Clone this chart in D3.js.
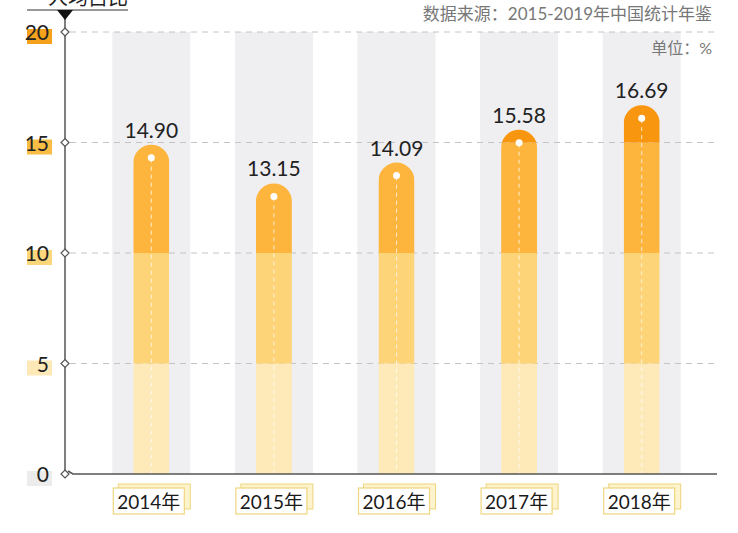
<!DOCTYPE html>
<html>
<head>
<meta charset="utf-8">
<script src="https://cdn.jsdelivr.net/npm/d3@7"></script>
<style>
  html, body { margin: 0; padding: 0; background: #fff; }
  body { width: 738px; height: 533px; overflow: hidden; }
  text { font-family: Lato, "Noto Sans CJK SC", sans-serif; }
</style>
</head>
<body>
<div id="chart"></div>
<script>
const years  = ["2014年", "2015年", "2016年", "2017年", "2018年"];
const values = [14.90, 13.15, 14.09, 15.58, 16.69];
const ticks  = [0, 5, 10, 15, 20];
// colour steps for the bar segments / tick highlights
const steps      = [[0, 5], [5, 10], [10, 15], [15, 20]];
const stepColors = ["#fee9b9", "#fdd477", "#fdb53e", "#f8970f"];
const tickColors = ["#ececec", "#fde8b8", "#fcd67a", "#f9bd45", "#f5a11b"];

const W = 738, H = 533;
const axisX = 65;

const svg = d3.select("#chart").append("svg")
  .attr("width", W).attr("height", H);

const x = d3.scaleBand().domain(years).range([90, 703]).padding(0);
const y = d3.scaleLinear().domain([0, 20]).range([474, 32]);

const bandW = 78, barW = 36, r = barW / 2;

// grey background columns
svg.selectAll(".bg")
  .data(years)
  .join("rect")
  .attr("x", d => x(d) + x.bandwidth() / 2 - bandW / 2)
  .attr("y", y(20))
  .attr("width", bandW)
  .attr("height", y(0) - y(20))
  .attr("fill", "#efeff2");

// gridlines
svg.append("g")
  .selectAll("line")
  .data(ticks.filter(t => t > 0))
  .join("line")
  .attr("x1", axisX + 5).attr("x2", 718)
  .attr("y1", d => y(d)).attr("y2", d => y(d))
  .attr("stroke", "#c4c4c4")
  .attr("stroke-dasharray", "6,5");

// bars: rounded-top shape used as clip, filled by colour steps
const barPath = (cx, v) => {
  const top = y(v), bot = y(0);
  return `M${cx - r},${bot} L${cx - r},${top + r} A${r},${r} 0 0 1 ${cx + r},${top + r} L${cx + r},${bot} Z`;
};

const defs = svg.append("defs");
years.forEach((yr, i) => {
  const cx = x(yr) + x.bandwidth() / 2;
  defs.append("clipPath").attr("id", "bar" + i)
    .append("path").attr("d", barPath(cx, values[i]));

  const g = svg.append("g").attr("clip-path", `url(#bar${i})`);
  g.selectAll("rect")
    .data(steps)
    .join("rect")
    .attr("x", cx - r)
    .attr("width", barW)
    .attr("y", d => y(d[1]))
    .attr("height", d => y(d[0]) - y(d[1]))
    .attr("fill", (d, j) => stepColors[j]);

  // dashed centre line + top dot
  svg.append("line")
    .attr("x1", cx).attr("x2", cx)
    .attr("y1", y(values[i]) + 14).attr("y2", y(0))
    .attr("stroke", "#fff").attr("stroke-opacity", 0.75)
    .attr("stroke-width", 1)
    .attr("stroke-dasharray", "4,4");
  svg.append("circle")
    .attr("cx", cx).attr("cy", y(values[i]) + 13)
    .attr("r", 3.5).attr("fill", "#fff");

  // value label
  svg.append("text")
    .attr("x", cx).attr("y", y(values[i]) - 7)
    .attr("text-anchor", "middle")
    .attr("font-size", "21px")
    .attr("fill", "#222")
    .text(values[i].toFixed(2));

  // category label boxes (stacked look)
  const bx = cx - 38;
  svg.append("rect")
    .attr("x", bx + 5).attr("y", 484)
    .attr("width", 72).attr("height", 25)
    .attr("fill", "#fdf3cc").attr("stroke", "#efd57d").attr("stroke-width", 1);
  svg.append("rect")
    .attr("x", bx).attr("y", 488)
    .attr("width", 71).attr("height", 26)
    .attr("fill", "#fff").attr("stroke", "#efd57d").attr("stroke-width", 1.2);
  svg.append("text")
    .attr("x", bx + 35.5).attr("y", 509)
    .attr("text-anchor", "middle")
    .attr("font-size", "19px")
    .attr("fill", "#1a1a1a")
    .text(yr);
});

// y axis line + bottom axis line
svg.append("line")
  .attr("x1", axisX).attr("x2", axisX)
  .attr("y1", 14).attr("y2", y(0))
  .attr("stroke", "#555").attr("stroke-width", 1.5);
svg.append("path")
  .attr("d", `M${axisX + 3},${y(0) - 3} L${axisX + 8},${y(0)} L717,${y(0)}`)
  .attr("fill", "none")
  .attr("stroke", "#555").attr("stroke-width", 1.5);

// title stub at top (cut off by the frame, as in the source image)
svg.append("line")
  .attr("x1", 27).attr("x2", 128)
  .attr("y1", 10).attr("y2", 10)
  .attr("stroke", "#333").attr("stroke-width", 1.2);
svg.append("path")
  .attr("d", `M${axisX - 8},10 L${axisX + 8},10 L${axisX},20 Z`)
  .attr("fill", "#111");
svg.append("text")
  .attr("x", 88).attr("y", 5)
  .attr("text-anchor", "middle")
  .attr("font-size", "20px")
  .attr("fill", "#222")
  .text("人均占比");

// tick labels with marker highlight
const tickG = svg.append("g");
ticks.forEach((t, i) => {
  const ty = y(t);
  tickG.append("rect")
    .attr("x", 27).attr("y", ty - 3)
    .attr("width", 25).attr("height", 15)
    .attr("fill", tickColors[i]);
  tickG.append("text")
    .attr("x", 49).attr("y", ty + 8)
    .attr("text-anchor", "end")
    .attr("font-size", "21px")
    .attr("fill", "#222")
    .text(t);
  tickG.append("path")
    .attr("d", `M${axisX},${ty - 4} L${axisX + 4},${ty} L${axisX},${ty + 4} L${axisX - 4},${ty} Z`)
    .attr("fill", "#fff").attr("stroke", "#555").attr("stroke-width", 1.2);
});

// source + unit
svg.append("text")
  .attr("x", 712).attr("y", 20)
  .attr("text-anchor", "end")
  .attr("font-size", "17px")
  .attr("fill", "#777")
  .text("数据来源：2015-2019年中国统计年鉴");
svg.append("text")
  .attr("x", 712).attr("y", 54)
  .attr("text-anchor", "end")
  .attr("font-size", "16px")
  .attr("fill", "#777")
  .text("单位：%");
</script>
</body>
</html>
